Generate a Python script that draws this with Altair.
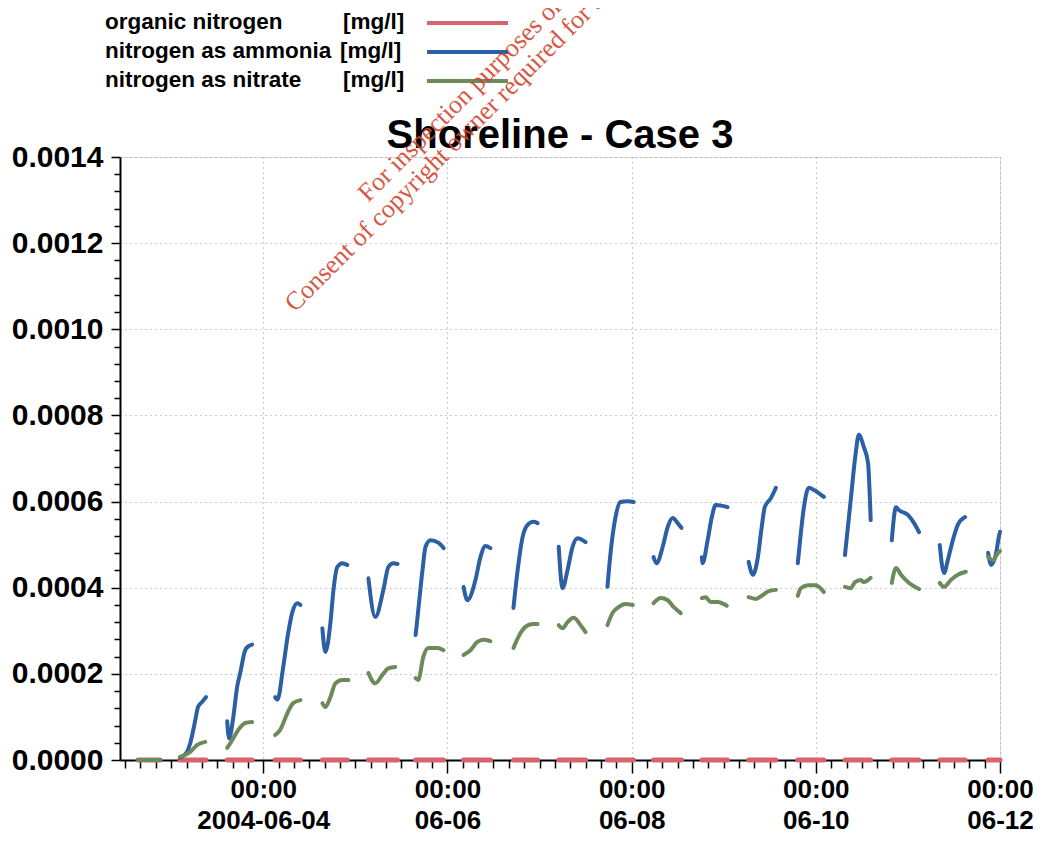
import altair as alt
import pandas as pd

BASE = pd.Timestamp("2004-06-04 00:00:00")

TITLE = "Shoreline - Case 3"
SERIES = ["organic nitrogen", "nitrogen as ammonia", "nitrogen as nitrate"]
UNIT = "[mg/l]"
COLORS = ["#d9626e", "#2c5fa3", "#6d8a5b"]
WATERMARK = ["For inspection purposes only.",
             "Consent of copyright owner required for any other use."]

# hours relative to 2004-06-04 00:00, one list per tidal segment
AMMONIA_HOURS = [
    [-32.6, -26.9],
    [-21.7, -19.8, -19.0, -17.7, -17.0, -15.9, -14.9],
    [-9.4, -8.9, -7.8, -6.8, -6.0, -4.7, -3.7, -2.9],
    [3.1, 3.7, 5.2, 6.5, 7.6, 8.9, 9.7],
    [15.4, 16.2, 17.5, 18.3, 19.3, 20.6, 21.9],
    [27.4, 29.2, 31.3, 32.6, 33.9, 35.0],
    [39.7, 40.4, 41.5, 42.3, 43.6, 45.7, 47.0],
    [52.2, 53.2, 55.3, 56.6, 57.9, 59.2],
    [65.2, 66.3, 67.6, 68.9, 70.4, 71.5],
    [77.0, 78.0, 79.3, 80.6, 81.9, 84.0],
    [89.7, 90.5, 91.8, 93.1, 95.0, 96.5],
    [101.7, 102.5, 104.1, 105.4, 106.7, 108.0, 109.0],
    [114.3, 114.5, 115.8, 116.9, 117.9, 119.7, 121.0],
    [126.5, 127.6, 128.9, 129.9, 130.7, 132.3, 133.6],
    [139.3, 140.1, 140.9, 142.2, 143.5, 146.1],
    [151.6, 153.1, 154.4, 155.2, 156.5, 157.6, 158.3],
    [163.8, 164.9, 165.7, 168.0, 169.6, 170.9],
    [176.3, 177.4, 178.4, 179.7, 181.0, 182.9],
    [188.9, 189.7, 191.0, 191.7, 192.0],
]
AMMONIA_VALUES = [
    [0.0, 0.0],
    [0.000005, 0.00002, 0.00004, 0.000093, 0.000123, 0.000135, 0.000146],
    [0.00009, 0.00005, 0.0001, 0.00017, 0.000202, 0.000255, 0.000265, 0.000268],
    [0.000146, 0.00014, 0.000216, 0.000295, 0.000344, 0.000364, 0.00036],
    [0.000306, 0.000251, 0.000318, 0.000395, 0.000448, 0.000457, 0.000453],
    [0.000422, 0.000332, 0.000395, 0.000448, 0.000457, 0.000455],
    [0.00029, 0.000348, 0.000441, 0.000495, 0.00051, 0.000504, 0.000492],
    [0.000402, 0.000371, 0.000418, 0.000471, 0.000497, 0.000492],
    [0.000353, 0.000441, 0.000518, 0.000546, 0.000553, 0.00055],
    [0.000495, 0.000399, 0.000441, 0.000495, 0.000515, 0.000506],
    [0.000402, 0.00048, 0.000564, 0.000599, 0.000601, 0.000599],
    [0.000471, 0.000457, 0.000495, 0.000541, 0.000562, 0.00055, 0.000539],
    [0.000471, 0.000457, 0.00051, 0.000564, 0.000592, 0.00059, 0.000587],
    [0.00046, 0.00043, 0.000471, 0.000541, 0.000587, 0.000608, 0.000632],
    [0.000457, 0.000527, 0.000587, 0.000632, 0.000627, 0.000611],
    [0.000476, 0.000604, 0.000713, 0.000755, 0.000727, 0.00069, 0.000557],
    [0.00051, 0.000587, 0.00058, 0.000569, 0.00055, 0.000529],
    [0.000499, 0.000434, 0.000464, 0.00051, 0.000546, 0.000564],
    [0.000481, 0.000453, 0.000481, 0.000518, 0.00053],
]
NITRATE_HOURS = [
    [-32.6, -26.9],
    [-21.7, -19.0, -17.2, -15.1],
    [-9.4, -8.1, -6.5, -4.7, -2.9],
    [3.1, 4.4, 6.3, 7.8, 9.7],
    [15.4, 16.2, 17.5, 18.8, 20.6, 22.2],
    [27.4, 29.2, 31.0, 32.6, 34.4],
    [39.7, 40.4, 41.7, 43.0, 45.4, 47.0],
    [52.2, 54.0, 55.8, 57.4, 59.2],
    [65.2, 66.5, 68.3, 70.2, 71.5],
    [77.0, 78.0, 79.3, 80.9, 82.7, 84.0],
    [89.7, 91.0, 92.6, 94.4, 96.3],
    [101.7, 103.6, 105.4, 107.0, 108.8],
    [114.3, 115.3, 116.6, 118.4, 120.8],
    [126.5, 128.4, 130.2, 131.7, 133.6],
    [139.3, 140.1, 141.9, 144.0, 146.1],
    [151.6, 153.1, 154.2, 155.7, 156.5, 158.3],
    [163.8, 164.9, 166.2, 168.3, 170.9],
    [176.3, 177.4, 179.2, 181.0, 183.1],
    [188.9, 190.2, 191.5, 192.0],
]
NITRATE_VALUES = [
    [0.0, 0.0],
    [0.000007, 0.000019, 0.000035, 0.000042],
    [0.000028, 0.000046, 0.00007, 0.000086, 0.000088],
    [0.000058, 0.00007, 0.000109, 0.000132, 0.000139],
    [0.000132, 0.000123, 0.000146, 0.000178, 0.000186, 0.000186],
    [0.000202, 0.000178, 0.000197, 0.000213, 0.000216],
    [0.00019, 0.000186, 0.000239, 0.00026, 0.00026, 0.000255],
    [0.000244, 0.000255, 0.000274, 0.000279, 0.000276],
    [0.00026, 0.000286, 0.000309, 0.000316, 0.000316],
    [0.000313, 0.000306, 0.00032, 0.00033, 0.000313, 0.000297],
    [0.000313, 0.000341, 0.000355, 0.000362, 0.00036],
    [0.000364, 0.000376, 0.000371, 0.000355, 0.000341],
    [0.000376, 0.000378, 0.000367, 0.000367, 0.000358],
    [0.000378, 0.000374, 0.000383, 0.000392, 0.000395],
    [0.000381, 0.000399, 0.000406, 0.000406, 0.00039],
    [0.000402, 0.000399, 0.000413, 0.000418, 0.000413, 0.000423],
    [0.000411, 0.000446, 0.00043, 0.000411, 0.000397],
    [0.000411, 0.000402, 0.000418, 0.00043, 0.000437],
    [0.000471, 0.000464, 0.000481, 0.000485],
]
ORGANIC_HOURS = [
    [-32.6, -26.9], [-21.7, -14.9], [-9.4, -2.9], [3.1, 9.7], [15.4, 21.9],
    [27.4, 35.0], [39.7, 47.0], [52.2, 59.2], [65.2, 71.5], [77.0, 84.0],
    [89.7, 96.5], [101.7, 109.0], [114.3, 121.0], [126.5, 133.6],
    [139.3, 146.1], [151.6, 158.3], [163.8, 170.9], [176.3, 182.9],
    [188.9, 192.0],
]
ORGANIC_VALUES = [[0.0, 0.0] for _ in ORGANIC_HOURS]


def frame(hours, values, name):
    rows = []
    for seg, (hs, vs) in enumerate(zip(hours, values)):
        for h, v in zip(hs, vs):
            t = BASE + pd.Timedelta(hours=h)
            rows.append({"time": t.strftime("%Y-%m-%dT%H:%M:%S"),
                         "value": v, "seg": seg, "series": name})
    return pd.DataFrame(rows)


df_org = frame(ORGANIC_HOURS, ORGANIC_VALUES, SERIES[0])
df_amm = frame(AMMONIA_HOURS, AMMONIA_VALUES, SERIES[1])
df_nit = frame(NITRATE_HOURS, NITRATE_VALUES, SERIES[2])

# tick positions (every 4 hours on x, every 0.00004 on y)
x_ticks = []
t = pd.Timestamp("2004-06-02 12:00:00")
while t <= pd.Timestamp("2004-06-12 00:00:00"):
    x_ticks.append(alt.DateTime(year=t.year, month=t.month, date=t.day, hours=t.hour))
    t += pd.Timedelta(hours=4)
y_ticks = [round(i * 0.00004, 6) for i in range(36)]

X_MAJOR_TEST = "hours(datum.value) == 0 && date(datum.value) % 2 == 0"
Y_MAJOR_TEST = "abs(datum.value / 0.0002 - round(datum.value / 0.0002)) < 0.01"

FONT = "Liberation Sans"

x_axis = alt.Axis(
    values=x_ticks,
    labelExpr="(" + X_MAJOR_TEST + ") ? ['00:00', (date(datum.value) == 4 ? "
              "timeFormat(datum.value, '%Y-%m-%d') : timeFormat(datum.value, '%m-%d'))] : ''",
    labelFont=FONT, labelFontSize=26, labelFontWeight="bold", labelColor="black",
    labelLineHeight=31, labelPadding=3, labelOverlap=False, labelFlush=False,
    tickSize={"condition": {"test": X_MAJOR_TEST, "value": 13}, "value": 8},
    tickColor="black", tickWidth=1.5,
    grid=True,
    gridOpacity={"condition": {"test": X_MAJOR_TEST, "value": 1}, "value": 0},
    gridColor="#9a9a9a", gridDash=[1, 4], gridWidth=1.2,
    domainColor="black", domainWidth=2,
)
y_axis = alt.Axis(
    values=y_ticks,
    labelExpr="(" + Y_MAJOR_TEST + ") ? format(datum.value, '.4f') : ''",
    labelFont=FONT, labelFontSize=30, labelFontWeight="bold", labelColor="black",
    labelPadding=8, labelOverlap=False, labelFlush=False,
    tickSize={"condition": {"test": Y_MAJOR_TEST, "value": 9}, "value": 6},
    tickColor="black", tickWidth=1.5,
    grid=True,
    gridOpacity={"condition": {"test": Y_MAJOR_TEST, "value": 1}, "value": 0},
    gridColor="#9a9a9a", gridDash=[1, 4], gridWidth=1.2,
    domainColor="black", domainWidth=2,
)

X = alt.X("time:T", title=None, axis=x_axis,
          scale=alt.Scale(domain=[alt.DateTime(year=2004, month=6, date=2, hours=10, minutes=40),
                                  alt.DateTime(year=2004, month=6, date=12, hours=0)]))
Y = alt.Y("value:Q", title=None, axis=y_axis,
          scale=alt.Scale(domain=[0, 0.0014], nice=False, zero=False))


def series_layer(df, color, width):
    return alt.Chart(df).mark_line(
        strokeWidth=width, interpolate="monotone", strokeCap="round", strokeJoin="round",
        color=color,
    ).encode(x=X, y=Y, detail="seg:N")


layers = [
    series_layer(df_org, COLORS[0], 5),
    series_layer(df_amm, COLORS[1], 4),
    series_layer(df_nit, COLORS[2], 4),
]

# title as a text mark
layers.append(
    alt.Chart(pd.DataFrame({"t": [TITLE]})).mark_text(
        align="center", baseline="alphabetic", font=FONT, fontSize=40,
        fontWeight="bold", color="black",
    ).encode(text="t:N", x=alt.value(440), y=alt.value(-9))
)

# legend (top-left, above the title)
row_y = [-135, -106, -77]
for i, name in enumerate(SERIES):
    lbl = pd.DataFrame({"t": [name], "u": [UNIT]})
    layers.append(
        alt.Chart(lbl).mark_text(align="left", baseline="middle", font=FONT,
                                 fontSize=22.5, fontWeight="bold", color="black")
        .encode(text="t:N", x=alt.value(-15), y=alt.value(row_y[i]))
    )
    layers.append(
        alt.Chart(lbl).mark_text(align="left", baseline="middle", font=FONT,
                                 fontSize=22.5, fontWeight="bold", color="black")
        .encode(text="u:N", x=alt.value(220 if i == 1 else 223), y=alt.value(row_y[i]))
    )
    layers.append(
        alt.Chart(lbl).mark_rule(strokeWidth=4, color=COLORS[i])
        .encode(x=alt.value(307), x2=alt.value(388), y=alt.value(row_y[i] + 1))
    )

# diagonal watermark text
wm_pos = [(248, 46), (175, 156)]
for txt, (px, py) in zip(WATERMARK, wm_pos):
    layers.append(
        alt.Chart(pd.DataFrame({"t": [txt]})).mark_text(
            align="left", baseline="alphabetic", angle=315, font="Liberation Serif",
            fontSize=26, color="#d2452f", opacity=0.9,
        ).encode(text="t:N", x=alt.value(px), y=alt.value(py))
    )

chart = alt.layer(*layers).properties(
    width=880, height=603,
    autosize=alt.AutoSizeParams(type="none"),
    padding={"left": 112, "top": 149, "right": 36, "bottom": 76},
).configure_view(stroke="black", strokeWidth=2).configure(background="white")

chart.save("out.html", embed_options={"renderer": "svg", "actions": False})
